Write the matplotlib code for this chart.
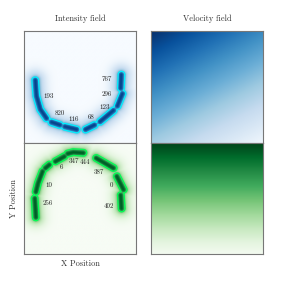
#! /usr/bin/env python3
# -*- coding: utf-8 -*-
import numpy as np
import matplotlib
matplotlib.use('Agg')
import matplotlib.pyplot as plt

# ridge pieces of the intensity field, as polylines in axes fractions
top_chains = [
    [(0.10, 0.56), (0.11, 0.42), (0.145, 0.30), (0.20, 0.22)],
    [(0.245, 0.185), (0.32, 0.16)],
    [(0.365, 0.145), (0.47, 0.12)],
    [(0.55, 0.12), (0.63, 0.16)],
    [(0.68, 0.19), (0.80, 0.29)],
    [(0.835, 0.33), (0.88, 0.44)],
    [(0.865, 0.49), (0.87, 0.61)],
]
bot_chains = [
    [(0.105, 0.33), (0.095, 0.50)],
    [(0.105, 0.56), (0.125, 0.64), (0.165, 0.745)],
    [(0.19, 0.775), (0.225, 0.805)],
    [(0.28, 0.835), (0.36, 0.88)],
    [(0.39, 0.905), (0.44, 0.918), (0.53, 0.912)],
    [(0.645, 0.865), (0.80, 0.775)],
    [(0.83, 0.70), (0.89, 0.58)],
    [(0.865, 0.53), (0.872, 0.41)],
]

# labels
top_lab = ['767', '296', '123', '68', '116', '820', '193']
top_lab_x = [0.74, 0.74, 0.72, 0.60, 0.44, 0.32, 0.22]
top_lab_y = [0.57, 0.44, 0.32, 0.23, 0.21, 0.265, 0.42]
bot_lab = ['6', '347', '444', '387', '10', '0', '256', '402']
bot_lab_x = [0.33, 0.45, 0.545, 0.665, 0.22, 0.785, 0.21, 0.76]
bot_lab_y = [0.785, 0.835, 0.826, 0.735, 0.625, 0.625, 0.46, 0.43]

# velocity field corner values [[top-left, top-right], [bottom-left, bottom-right]]
vel_top = [[1.0, 0.66], [0.36, 0.04]]
vel_bot = [[1.0, 1.0], [0.03, 0.03]]

plt.rcParams['font.family'] = ['cmr10', 'DejaVu Serif']
plt.rcParams['axes.formatter.use_mathtext'] = True
plt.rcParams['mathtext.fontset'] = 'cm'

n = 240
gx, gy = np.meshgrid(np.linspace(0, 1, n), np.linspace(0, 1, n))


def seg_dist2(p, q):
    px, py = p
    qx, qy = q
    dx, dy = qx - px, qy - py
    t = ((gx - px) * dx + (gy - py) * dy) / (dx * dx + dy * dy)
    t = np.clip(t, 0, 1)
    return (gx - px - t * dx) ** 2 + (gy - py - t * dy) ** 2


def density(chains):
    d2 = np.full_like(gx, 10.0)
    for ch in chains:
        for p, q in zip(ch[:-1], ch[1:]):
            d2 = np.minimum(d2, seg_dist2(p, q))
    core = np.exp(-d2 / (2 * 0.022 ** 2))
    halo = np.exp(-d2 / (2 * 0.065 ** 2))
    return core, halo


def bilinear(c):
    c = np.array(c)
    return (c[1, 0] * (1 - gx) * (1 - gy) + c[1, 1] * gx * (1 - gy)
            + c[0, 0] * (1 - gx) * gy + c[0, 1] * gx * gy)


def style(ax):
    ax.set_xticks([])
    ax.set_yticks([])
    for s in ax.spines.values():
        s.set_color('#777777')
        s.set_linewidth(0.8)


fig = plt.figure(figsize=(2.87, 2.87), dpi=100)
W = 112 / 287
ax1 = fig.add_axes([24 / 287, 144 / 287, W, 112 / 287])
ax2 = fig.add_axes([24 / 287, 33 / 287, W, 111 / 287])
ax3 = fig.add_axes([151 / 287, 144 / 287, W, 112 / 287])
ax4 = fig.add_axes([151 / 287, 33 / 287, W, 111 / 287])

for ax, chains, cmap, ccol, labs, lx, ly in [
        (ax1, top_chains, 'Blues', '#00f0ff', top_lab, top_lab_x, top_lab_y),
        (ax2, bot_chains, 'Greens', '#00ff55', bot_lab, bot_lab_x, bot_lab_y)]:
    core, halo = density(chains)
    f = 0.6 * core + 0.4 * halo
    ax.imshow(f, extent=[0, 1, 0, 1], origin='lower', cmap=cmap,
              vmin=0, vmax=1.08, interpolation='bilinear', aspect='auto')
    ax.contour(gx, gy, core, levels=[0.4], colors=ccol, linewidths=0.9)
    for t, x, y in zip(labs, lx, ly):
        ax.text(x, y, t, fontsize=5, ha='center', va='center', color='#222222')
    ax.set_xlim(0, 1)
    ax.set_ylim(0, 1)
    style(ax)

ax3.imshow(bilinear(vel_top), extent=[0, 1, 0, 1], origin='lower', cmap='Blues',
           vmin=0, vmax=1, aspect='auto')
ax4.imshow(bilinear(vel_bot), extent=[0, 1, 0, 1], origin='lower', cmap='Greens',
           vmin=0, vmax=1, aspect='auto')
style(ax3)
style(ax4)

ax1.set_title('Intensity field', fontsize=6, color='#333333', pad=7)
ax3.set_title('Velocity field', fontsize=6, color='#333333', pad=7)
ax2.set_xlabel('X Position', fontsize=6, color='#333333', labelpad=4)
ax2.set_ylabel('Y Position', fontsize=6, color='#333333', labelpad=4)

fig.savefig('out.png', dpi=100)
